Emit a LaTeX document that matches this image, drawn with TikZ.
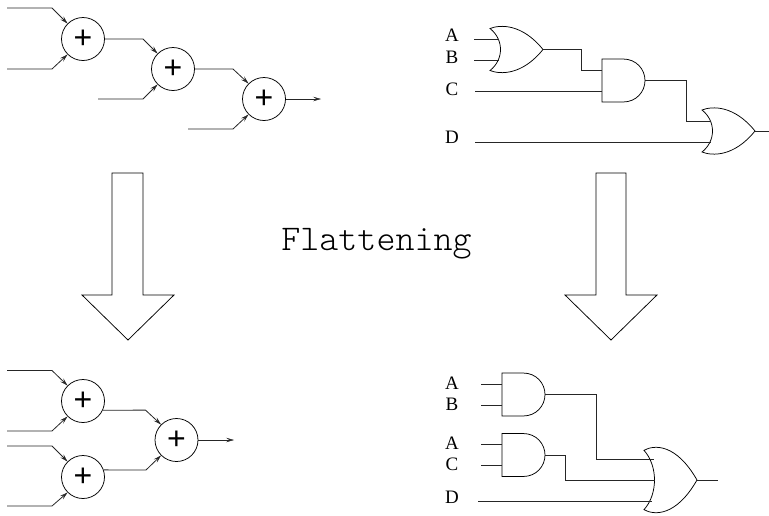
\documentclass[tikz,border=0pt]{standalone}
\usepackage{fontspec}
\setmainfont{Liberation Serif}
\newfontfamily\plusfont{Liberation Sans}
\newfontfamily\titlefont{Latin Modern Mono Light}
\usetikzlibrary{arrows.meta}
\tikzset{
  wire/.style={line width=0.8pt,black!85,line join=miter},
  feed/.style={wire,-{Stealth[length=8pt,width=4.5pt,inset=3.5pt,line width=0.4pt]}},
  adder/.style={circle,draw,line width=0.75pt,minimum size=43pt,inner sep=0pt,font=\plusfont\fontsize{32}{32}\selectfont},
  gateline/.style={line width=0.75pt,black},
  biga/.style={line width=0.75pt,black},
  siglabel/.style={font=\fontsize{19}{20}\selectfont,inner sep=0pt},
  title/.style={font=\titlefont\fontsize{36.2}{36}\selectfont,inner sep=0pt}
}
\newcommand{\plusmark}{\raisebox{-1.5pt}{+}}
% name, left x, centre y, height
\newcommand{\orgate}[4]{%
  \begin{scope}[shift={(#2,#3)},yscale=#4/46]
    \draw[gateline] (0,-21) .. controls (14,-10) and (14,10) .. (0,21)
      .. controls (10,25) and (32,26) .. (53,0)
      .. controls (32,-26) and (10,-25) .. (0,-21) -- cycle;
    \coordinate (#1-out) at (53,0);
  \end{scope}}
\newcommand{\andgate}[3]{%
  \begin{scope}[shift={(#2,#3)}]
    \draw[gateline] (21,-21.5) -- (0,-21.5) -- (0,21.5) -- (21,21.5)
      .. controls (34.5,21.5) and (43,11) .. (43,0)
      .. controls (43,-11) and (34.5,-21.5) .. (21,-21.5);
    \coordinate (#1-out) at (43,0);
    \coordinate (#1-up) at (0,-10.5);
    \coordinate (#1-lo) at (0,10.5);
  \end{scope}}
\begin{document}
\begin{tikzpicture}[x=1pt,y=-1pt]
\useasboundingbox (0,0) rectangle (769,515);

% top-left adders
\node[adder] (s1) at (83,39) {\plusmark};
\node[adder] (s2) at (173,69) {\plusmark};
\node[adder] (s3) at (264,99) {\plusmark};
\coordinate (a1) at (7,8); \coordinate (a1b) at (52,8);
\coordinate (a2) at (7,69); \coordinate (a2b) at (52,69);
\coordinate (a3) at (98,99); \coordinate (a3b) at (143,99);
\coordinate (a4) at (188,129); \coordinate (a4b) at (233,129);
\coordinate (a5b) at (143,39);
\coordinate (a6b) at (233,69);
\coordinate (aout) at (321,99);
\draw[feed] (a1) -- (a1b) -- (s1.135);
\draw[feed] (a2) -- (a2b) -- (s1.225);
\draw[feed] (s1.east) -- (a5b) -- (s2.135);
\draw[feed] (a3) -- (a3b) -- (s2.225);
\draw[feed] (s2.east) -- (a6b) -- (s3.135);
\draw[feed] (a4) -- (a4b) -- (s3.225);
\draw[feed] (s3.east) -- (aout);

% bottom-left adders
\node[adder] (t1) at (83,401) {\plusmark};
\node[adder] (t2) at (83,477) {\plusmark};
\node[adder] (t3) at (176.5,440) {\plusmark};
\coordinate (b1) at (7,370.5); \coordinate (b1b) at (52,370.5);
\coordinate (b2) at (7,431); \coordinate (b2b) at (52,431);
\coordinate (b3) at (7,446); \coordinate (b3b) at (52,446);
\coordinate (b4) at (7,506); \coordinate (b4b) at (52,506);
\coordinate (b5b) at (145.5,410.1);
\coordinate (b6b) at (146,470);
\coordinate (bout) at (234,440);
\draw[feed] (b1) -- (b1b) -- (t1.135);
\draw[feed] (b2) -- (b2b) -- (t1.225);
\draw[feed] (b3) -- (b3b) -- (t2.135);
\draw[feed] (b4) -- (b4b) -- (t2.225);
\draw[feed] (t1.-25) -- (b5b) -- (t3.135);
\draw[feed] (t2.19) -- (b6b) -- (t3.225);
\draw[feed] (t3.east) -- (bout);

% big arrows
\draw[biga] (112,173) -- (143,173) -- (143,295) -- (174,295) -- (128,340) -- (82,295) -- (112,295) -- cycle;
\draw[biga] (596,173) -- (626,173) -- (626,295) -- (657,295) -- (611,340) -- (565,295) -- (596,295) -- cycle;

\node[title,anchor=base] (flat) at (376.5,250) {Flattening};

% top-right logic
\orgate{o1}{490}{49.5}{46}
\andgate{n1}{602}{80.5}
\orgate{o2}{702}{131}{46}
\node[siglabel] (lA) at (452,35) {A};
\node[siglabel] (lB) at (452,57) {B};
\node[siglabel] (lC) at (452,89.5) {C};
\node[siglabel] (lD) at (452,137) {D};
\coordinate (wA) at (474,39); \coordinate (wAe) at (499,39);
\coordinate (wB) at (474,60.5); \coordinate (wBe) at (499,60.5);
\coordinate (wC) at (475,91);
\coordinate (wD) at (475,142); \coordinate (wDe) at (711,142);
\coordinate (o2a) at (711,121);
\coordinate (o2end) at (769,131);
\draw[wire] (wA) -- (wAe);
\draw[wire] (wB) -- (wBe);
\draw[wire] (o1-out) -| (581.5,70) -- (n1-up);
\draw[wire] (wC) -- (wC -| n1-lo);
\draw[wire] (n1-out) -| (686.5,121) -- (o2a);
\draw[wire] (wD) -- (wDe);
\draw[wire] (o2-out) -- (o2end);

% bottom-right logic
\andgate{n2}{502}{394.5}
\andgate{n3}{502}{455}
\orgate{o3}{644}{480}{65}
\node[siglabel] (mA) at (452,383) {A};
\node[siglabel] (mB) at (452,404.5) {B};
\node[siglabel] (mA2) at (452,443) {A};
\node[siglabel] (mC) at (452,464.5) {C};
\node[siglabel] (mD) at (452,497) {D};
\coordinate (x1) at (481,384); 
\coordinate (x2) at (481,405);
\coordinate (x3) at (481,444.5);
\coordinate (x4) at (481,465.5);
\coordinate (x5) at (478,501); \coordinate (x5e) at (652,501);
\coordinate (o3a) at (654,459);
\coordinate (o3b) at (655,480);
\coordinate (o3end) at (718,480);
\draw[wire] (x1) -- (n2-up);
\draw[wire] (x2) -- (n2-lo);
\draw[wire] (x3) -- (n3-up);
\draw[wire] (x4) -- (n3-lo);
\draw[wire] (n2-out) -| (596,459) -- (o3a);
\draw[wire] (n3-out) -| (565.5,480) -- (o3b);
\draw[wire] (x5) -- (x5e);
\draw[wire] (o3-out) -- (o3end);
\end{tikzpicture}
\end{document}
